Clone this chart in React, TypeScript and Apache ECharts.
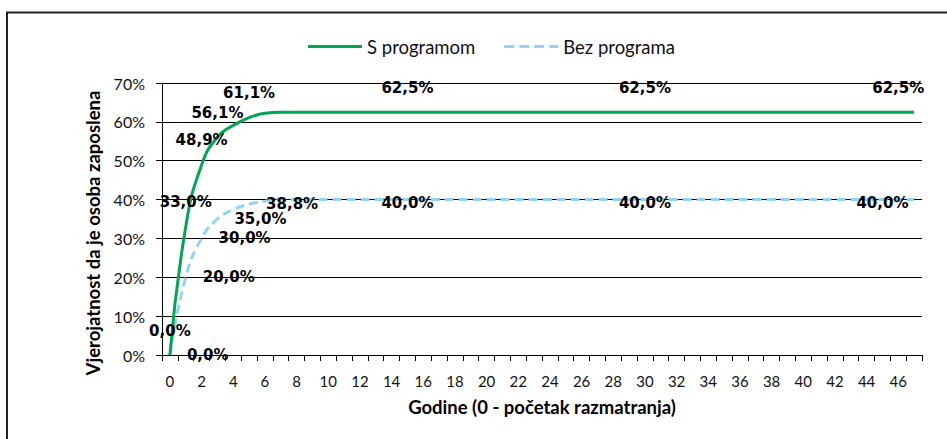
import React, { useEffect, useRef } from "react";
import * as echarts from "echarts";

const years: string[] = Array.from({ length: 48 }, (_, i) => String(i));
const withProgram: number[] = [
  0, 33.0, 48.9, 56.1, 59.1, 61.1, 62.2, 62.5, 62.5, 62.5, 62.5, 62.5, 62.5, 62.5, 62.5, 62.5,
  62.5, 62.5, 62.5, 62.5, 62.5, 62.5, 62.5, 62.5, 62.5, 62.5, 62.5, 62.5, 62.5, 62.5, 62.5, 62.5,
  62.5, 62.5, 62.5, 62.5, 62.5, 62.5, 62.5, 62.5, 62.5, 62.5, 62.5, 62.5, 62.5, 62.5, 62.5, 62.5,
];
const withoutProgram: number[] = [
  0, 20.0, 30.0, 35.0, 37.4, 38.8, 39.6, 40.0, 40.0, 40.0, 40.0, 40.0, 40.0, 40.0, 40.0, 40.0,
  40.0, 40.0, 40.0, 40.0, 40.0, 40.0, 40.0, 40.0, 40.0, 40.0, 40.0, 40.0, 40.0, 40.0, 40.0, 40.0,
  40.0, 40.0, 40.0, 40.0, 40.0, 40.0, 40.0, 40.0, 40.0, 40.0, 40.0, 40.0, 40.0, 40.0, 40.0, 40.0,
];
const greenLabelIdx: number[] = [0, 1, 2, 3, 5, 15, 30, 46];
const blueLabelIdx: number[] = [0, 1, 2, 3, 5, 15, 30, 45];
const seriesNames: string[] = ["S programom", "Bez programa"];
const yTitle = "Vjerojatnost da je osoba zaposlena";
const xTitle = "Godine (0 - početak razmatranja)";

const fmt = (v: number) => v.toFixed(1).replace(".", ",") + "%";
const labelFont = {
  fontFamily: "DejaVu Sans",
  fontWeight: "bold" as const,
  fontSize: 15,
  color: "#000",
};

export default function App() {
  const ref = useRef<HTMLDivElement>(null);
  useEffect(() => {
    if (!ref.current) return;
    const chart = echarts.init(ref.current, undefined, { renderer: "svg" });
    const labeledPoint = (v: number, label: any) => ({
      value: v,
      label: { show: true, formatter: () => fmt(v), ...labelFont, ...label },
    });
    const greenData = withProgram.map((v, i) =>
      greenLabelIdx.includes(i) ? labeledPoint(v, { position: "top", distance: 17 }) : v
    );
    const blueData = withoutProgram.map((v, i) =>
      blueLabelIdx.includes(i)
        ? labeledPoint(
            v,
            i <= 5 ? { position: "right", distance: 17 } : { position: "inside", offset: [0, 3] }
          )
        : v
    );
    chart.setOption({
      animation: false,
      backgroundColor: "#fff",
      legend: {
        left: 303,
        top: 32,
        itemWidth: 54,
        itemHeight: 3,
        itemGap: 29,
        textStyle: { fontFamily: "Lato", fontSize: 18.5, color: "#111" },
        data: [
          { name: seriesNames[0], icon: "path://M0,0H54V3H0Z" },
          {
            name: seriesNames[1],
            icon: "path://M0,0H10V3H0Z M15,0H25V3H15Z M30,0H40V3H30Z M45,0H54V3H45Z",
          },
        ],
      },
      grid: { left: 162, right: 25, top: 83, bottom: 84 },
      xAxis: {
        type: "category",
        data: years,
        boundaryGap: true,
        name: xTitle,
        nameLocation: "middle",
        nameGap: 42,
        nameTextStyle: { fontFamily: "Lato", fontWeight: "bold", fontSize: 18.5, color: "#000" },
        axisLine: { lineStyle: { color: "#000", width: 1 } },
        axisTick: { show: true, interval: 0, length: 6, lineStyle: { color: "#000" } },
        axisLabel: { interval: 1, margin: 18, fontFamily: "Lato", fontSize: 15, color: "#111" },
        splitLine: { show: false },
      },
      yAxis: {
        type: "value",
        min: 0,
        max: 70,
        interval: 10,
        axisLine: { show: true, lineStyle: { color: "#000", width: 1 } },
        axisTick: { show: true, length: 6, lineStyle: { color: "#000" } },
        axisLabel: { margin: 17, fontFamily: "Lato", fontSize: 16, color: "#111", formatter: (v: number) => `${v}%` },
        splitLine: { show: true, lineStyle: { color: "#000", width: 1 } },
      },
      graphic: [
        {
          type: "rect",
          shape: { x: 7, y: 12.5, width: 1000, height: 500 },
          style: { fill: "none", stroke: "#222", lineWidth: 2 },
          silent: true,
        },
        {
          type: "text",
          x: 93,
          y: 233,
          rotation: Math.PI / 2,
          style: {
            text: yTitle,
            fontFamily: "Lato",
            fontWeight: "bold",
            fontSize: 18.5,
            fill: "#000",
            align: "center",
            verticalAlign: "middle",
          },
        },
      ],
      series: [
        {
          name: seriesNames[0],
          type: "line",
          data: greenData,
          smooth: 0.5,
          symbol: "circle",
          symbolSize: 0,
          showSymbol: true,
          lineStyle: { color: "#00A651", width: 3 },
          itemStyle: { color: "#00A651" },
          z: 3,
        },
        {
          name: seriesNames[1],
          type: "line",
          data: blueData,
          smooth: 0.5,
          symbol: "circle",
          symbolSize: 0,
          showSymbol: true,
          lineStyle: { color: "#8FD4F5", width: 3, type: [9, 5] },
          itemStyle: { color: "#8FD4F5" },
          z: 2,
        },
      ],
    });
    return () => chart.dispose();
  }, []);
  return (
    <div
      ref={ref}
      style={{ position: "fixed", left: 0, top: 0, width: 947, height: 439 }}
    />
  );
}
